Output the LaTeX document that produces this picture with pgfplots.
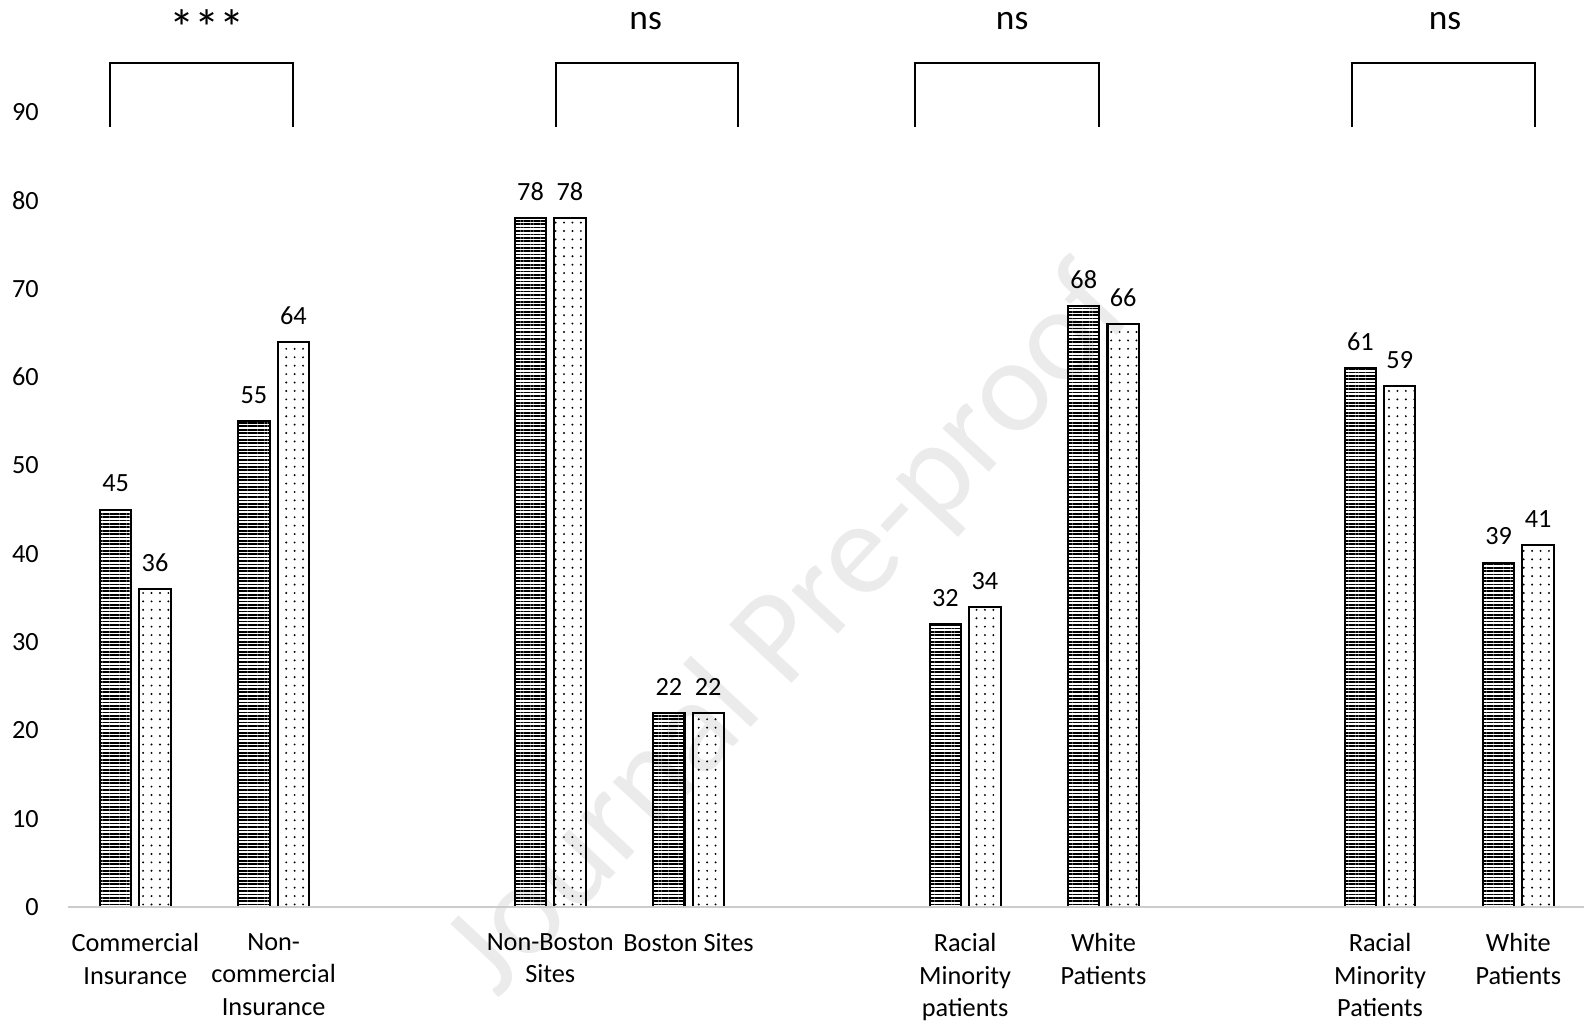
\documentclass[border=0pt]{standalone}
\usepackage{pgfplots}
\pgfplotsset{compat=1.18}
\usepackage{fontspec}
\setmainfont{Carlito}
\usetikzlibrary{patterns.meta}
\begin{document}
\begin{tikzpicture}[x=0.3pt,y=0.3pt]
\useasboundingbox (-65.5,-114) rectangle (1502.5,898);
\node[rotate=47,text=black!8,font=\fontsize{39.5}{48}\selectfont] at (718,272) {Journal Pre-proof};
\begin{axis}[
  at={(0,0)}, anchor=south west,
  scale only axis,
  width=451.8pt, height=236.1pt,
  xmin=-0.5, xmax=10.5, ymin=0, ymax=90,
  clip=false,
  axis line style={draw=none},
  ytick={0,10,...,90},
  xtick={0,1,3,4,6,7,9,10},
  xticklabels={{Commercial\\Insurance},{Non-\\commercial\\Insurance},{Non-Boston\\Sites},{Boston Sites},{Racial\\Minority\\patients},{White\\Patients},{Racial\\Minority\\Patients},{White\\Patients}},
  major tick length=0pt,
  tick style={draw=none},
  /pgf/number format/assume math mode=true,
  ticklabel style={font=\fontsize{7.8}{9.6}\selectfont},
  yticklabel style={xshift=-4.6pt},
  xticklabel style={align=center, yshift=-4.3pt},
  bar width=9.3pt,
]
\addplot[ybar, bar shift=-5.85pt, draw=black, line width=0.6pt, pattern={Lines[angle=0,distance=1pt,line width=0.5pt]}, pattern color=black,
  nodes near coords, every node near coord/.append style={font=\fontsize{7.8}{9.6}\selectfont, xshift=-5.85pt, yshift=1.6pt, /pgf/number format/assume math mode=true}]
  coordinates {(0,45) (1,55) (3,78) (4,22) (6,32) (7,68) (9,61) (10,39)};
\addplot[ybar, bar shift=5.85pt, draw=black, line width=0.6pt, pattern={Dots[distance=2.5pt,radius=0.32pt]}, pattern color=black,
  nodes near coords, every node near coord/.append style={font=\fontsize{7.8}{9.6}\selectfont, xshift=5.85pt, yshift=1.6pt, /pgf/number format/assume math mode=true}]
  coordinates {(0,36) (1,64) (3,78) (4,22) (6,34) (7,66) (9,59) (10,41)};
% baseline
\addplot[black!20, line width=0.6pt, mark=none] coordinates {(-0.49,0) (10.5,0)};
% significance brackets
\addplot[black, line width=0.6pt, mark=none] coordinates {(-0.18,88.3) (-0.18,95.6) (1.14,95.6) (1.14,88.3)};
\addplot[black, line width=0.6pt, mark=none] coordinates {(3.04,88.3) (3.04,95.6) (4.36,95.6) (4.36,88.3)};
\addplot[black, line width=0.6pt, mark=none] coordinates {(5.64,88.3) (5.64,95.6) (6.97,95.6) (6.97,88.3)};
\addplot[black, line width=0.6pt, mark=none] coordinates {(8.80,88.3) (8.80,95.6) (10.12,95.6) (10.12,88.3)};
\node[font=\fontsize{15}{16}\selectfont] at (axis cs:0.52,99.6) {***};
\node[font=\fontsize{10.5}{12}\selectfont] at (axis cs:3.69,100.3) {ns};
\node[font=\fontsize{10.5}{12}\selectfont] at (axis cs:6.34,100.3) {ns};
\node[font=\fontsize{10.5}{12}\selectfont] at (axis cs:9.47,100.3) {ns};
\end{axis}
\end{tikzpicture}
\end{document}
